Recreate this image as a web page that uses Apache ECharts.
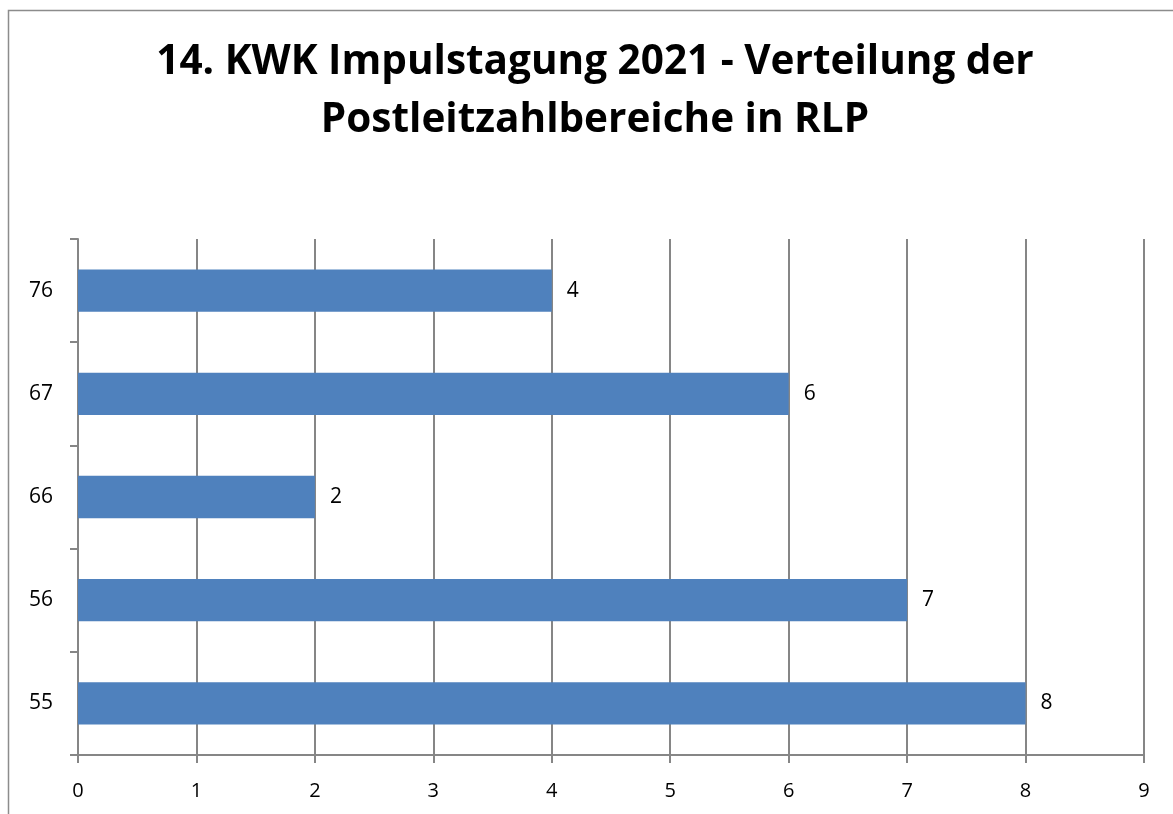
<!DOCTYPE html>
<html>
<head>
<meta charset="utf-8">
<script src="https://cdn.jsdelivr.net/npm/echarts@6/dist/echarts.min.js"></script>
<style>html,body{margin:0;padding:0;background:#fff}#c{width:1173px;height:814px}</style>
</head>
<body>
<div id="c"></div>
<script>
const titleText = '14. KWK Impulstagung 2021 - Verteilung der\nPostleitzahlbereiche in RLP';
const categories = ['55', '56', '66', '67', '76'];
const values = [8, 7, 2, 6, 4];
const xTicks = [0, 9, 1];

const chart = echarts.init(document.getElementById('c'));
chart.setOption({
  animation: false,
  backgroundColor: '#fff',
  title: {
    text: titleText,
    left: 595,
    textAlign: 'center',
    top: 33,
    padding: 0,
    textStyle: { fontFamily: 'Open Sans', fontWeight: 'bold', fontSize: 40.5, lineHeight: 58, color: '#000' }
  },
  graphic: [{
    type: 'rect',
    shape: { x: 8.5, y: 10.5, width: 1200, height: 900 },
    style: { fill: 'none', stroke: '#8c8c8c', lineWidth: 1.5 },
    silent: true
  }],
  grid: { left: 78, right: 29, top: 239, bottom: 59 },
  xAxis: {
    type: 'value', min: xTicks[0], max: xTicks[1], interval: xTicks[2],
    axisLine: { show: true, lineStyle: { color: '#868686', width: 2 } },
    axisTick: { show: true, inside: false, length: 8, lineStyle: { color: '#868686', width: 2 } },
    splitLine: { show: true, lineStyle: { color: '#868686', width: 2 } },
    axisLabel: { margin: 26, fontFamily: 'Open Sans', fontSize: 20, color: '#000' }
  },
  yAxis: {
    type: 'category', data: categories,
    axisLine: { show: true, lineStyle: { color: '#868686', width: 2 } },
    axisTick: { show: true, inside: false, length: 8, lineStyle: { color: '#868686', width: 2 } },
    axisLabel: { margin: 25, fontFamily: 'Open Sans', fontSize: 21, color: '#000' }
  },
  series: [{
    type: 'bar', data: values, barWidth: '41%',
    itemStyle: { color: '#4F81BD' },
    label: { show: true, position: 'right', distance: 15, fontFamily: 'Open Sans', fontSize: 21, color: '#000' }
  }]
});
</script>
</body>
</html>
